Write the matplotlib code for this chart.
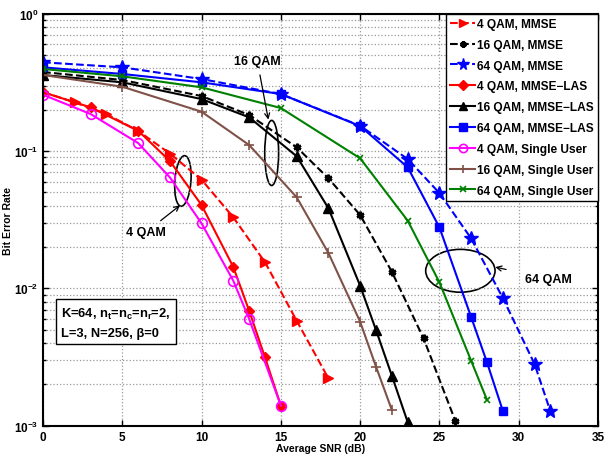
import matplotlib
matplotlib.use("Agg")
import matplotlib.pyplot as plt
from matplotlib.patches import Ellipse
from matplotlib.ticker import FixedLocator, FixedFormatter, NullFormatter, LogLocator

plt.rcParams["font.family"] = ["Liberation Sans", "DejaVu Sans"]
plt.rcParams["font.weight"] = "bold"
plt.rcParams["mathtext.fontset"] = "custom"
plt.rcParams["mathtext.bf"] = "Liberation Sans:bold"
plt.rcParams["mathtext.rm"] = "Liberation Sans:bold"

# 4 QAM
snr_4_mmse = [0, 2, 4, 6, 8, 10, 12, 14, 16, 18]
ber_4_mmse = [0.269, 0.226, 0.186, 0.140, 0.0959, 0.0618, 0.0329, 0.0155, 0.0058, 0.00221]
snr_4_las = [0, 3, 6, 8, 10, 12, 13, 14, 15]
ber_4_las = [0.268, 0.208, 0.1405, 0.0846, 0.0404, 0.0143, 0.00687, 0.00314, 0.0014]
snr_4_su = [0, 3, 6, 8, 10, 12, 13, 15]
ber_4_su = [0.257, 0.186, 0.1143, 0.0643, 0.0297, 0.01136, 0.00598, 0.0014]

# 16 QAM
snr_16_mmse = [0, 5, 10, 13, 16, 18, 20, 22, 24, 26]
ber_16_mmse = [0.376, 0.329, 0.2515, 0.183, 0.1064, 0.0633, 0.0342, 0.0132, 0.00432, 0.001085]
snr_16_las = [0, 5, 10, 13, 16, 18, 20, 21, 22, 23]
ber_16_las = [0.358, 0.3165, 0.239, 0.176, 0.0915, 0.0383, 0.01044, 0.00497, 0.00231, 0.00106]
snr_16_su = [0, 5, 10, 13, 16, 18, 20, 21, 22]
ber_16_su = [0.358, 0.294, 0.1933, 0.1106, 0.046, 0.01808, 0.00571, 0.00269, 0.0013]

# 64 QAM
snr_64_mmse = [0, 5, 10, 15, 20, 23, 25, 27, 29, 31, 32]
ber_64_mmse = [0.4426, 0.407, 0.3345, 0.260, 0.1528, 0.0874, 0.0494, 0.0231, 0.0085, 0.00281, 0.00127]
snr_64_las = [0, 5, 10, 15, 20, 23, 25, 27, 28, 29]
ber_64_las = [0.407, 0.364, 0.3165, 0.260, 0.152, 0.0761, 0.0278, 0.00618, 0.00289, 0.00128]
snr_64_su = [0, 5, 10, 15, 20, 23, 25, 27, 28]
ber_64_su = [0.3957, 0.350, 0.291, 0.2056, 0.0885, 0.0311, 0.01106, 0.00297, 0.00154]

brown = "#7F5147"
green = "#008000"

fig = plt.figure(figsize=(6.06, 4.64), dpi=100)
ax = fig.add_axes([0.071, 0.0804, 0.9158, 0.8879])

ax.plot(snr_4_mmse, ber_4_mmse, "--", color="red", marker=">", ms=7, lw=1.5,
        label="4 QAM, MMSE")
ax.plot(snr_16_mmse, ber_16_mmse, "--", color="black", marker=(6, 2, 0), ms=5.5,
        mew=1.8, lw=1.5, label="16 QAM, MMSE")
ax.plot(snr_64_mmse, ber_64_mmse, "--", color="blue", marker="*", ms=10, lw=1.5,
        label="64 QAM, MMSE")
ax.plot(snr_4_las, ber_4_las, "-", color="red", marker="D", ms=5.5, lw=1.5,
        label="4 QAM, MMSE\u2212LAS")
ax.plot(snr_16_las, ber_16_las, "-", color="black", marker="^", ms=7, lw=1.5,
        label="16 QAM, MMSE\u2212LAS")
ax.plot(snr_64_las, ber_64_las, "-", color="blue", marker="s", ms=6, lw=1.5,
        label="64 QAM, MMSE\u2212LAS")
ax.plot(snr_4_su, ber_4_su, "-", color="magenta", marker="o", ms=7, mfc="none",
        mew=1.2, lw=1.5, label="4 QAM, Single User")
ax.plot(snr_16_su, ber_16_su, "-", color=brown, marker="+", ms=7, mew=1.2, lw=1.5,
        label="16 QAM, Single User")
ax.plot(snr_64_su, ber_64_su, "-", color=green, marker="x", ms=5, mew=1.2, lw=1.5,
        label="64 QAM, Single User")

ax.set_yscale("log")
ax.set_xlim(0, 35)
ax.set_ylim(1e-3, 1)
ax.set_xticks([0, 5, 10, 15, 20, 25, 30, 35])
ax.set_xticklabels([str(v) for v in [0, 5, 10, 15, 20, 25, 30, 35]], fontsize=8.5,
                   fontweight="bold")
ax.yaxis.set_major_locator(FixedLocator([1e-3, 1e-2, 1e-1, 1]))
ax.yaxis.set_major_formatter(FixedFormatter([r"$\mathbf{10^{-3}}$", r"$\mathbf{10^{-2}}$",
                                             r"$\mathbf{10^{-1}}$", r"$\mathbf{10^{0}}$"]))
ax.yaxis.set_minor_locator(LogLocator(base=10, subs=range(2, 10)))
ax.yaxis.set_minor_formatter(NullFormatter())
ax.tick_params(axis="y", labelsize=8.5)
ax.tick_params(which="both", direction="in", top=True, right=True, width=1)
ax.tick_params(which="major", length=4)
ax.tick_params(which="minor", length=2)
ax.grid(True, which="major", linestyle=":", color="#999999", lw=0.9)
ax.grid(True, which="minor", axis="y", linestyle=":", color="#999999", lw=0.9)
for s in ax.spines.values():
    s.set_linewidth(1.5)

ax.set_xlabel("Average SNR (dB)", fontsize=7.5, fontweight="bold", labelpad=0)
ax.set_ylabel("Bit Error Rate", fontsize=7.5, fontweight="bold")
ax.yaxis.set_label_coords(-0.055, 0.5)

leg = ax.legend(loc="upper right", fontsize=8.6, handlelength=2.1, handletextpad=0.15,
                labelspacing=0.74, borderpad=0.35, borderaxespad=0.0, fancybox=False,
                edgecolor="black", framealpha=1, markerscale=0.85)
leg.get_frame().set_linewidth(1.0)
for t in leg.get_texts():
    t.set_fontweight("bold")

# annotations (axes fraction)
ax.add_patch(Ellipse((0.252, 0.594), 0.029, 0.123, angle=-3, transform=ax.transAxes,
                     fill=False, ec="black", lw=1.2))
ax.annotate("4 QAM", xy=(0.247, 0.535), xytext=(0.186, 0.47), textcoords="axes fraction",
            xycoords="axes fraction", fontsize=9, fontweight="bold", ha="center", va="center",
            arrowprops=dict(arrowstyle="->", lw=0.9, color="black", shrinkA=3, shrinkB=0))
ax.add_patch(Ellipse((0.412, 0.662), 0.025, 0.158, angle=0, transform=ax.transAxes,
                     fill=False, ec="black", lw=1.2))
ax.annotate("16 QAM", xy=(0.406, 0.743), xytext=(0.386, 0.886), textcoords="axes fraction",
            xycoords="axes fraction", fontsize=9, fontweight="bold", ha="center", va="center",
            arrowprops=dict(arrowstyle="->", lw=0.9, color="black", shrinkA=4, shrinkB=0))
ax.add_patch(Ellipse((0.752, 0.376), 0.125, 0.104, angle=0, transform=ax.transAxes,
                     fill=False, ec="black", lw=1.2))
ax.annotate("64 QAM", xy=(0.815, 0.385), xytext=(0.911, 0.356), textcoords="axes fraction",
            xycoords="axes fraction", fontsize=9, fontweight="bold", ha="center", va="center",
            arrowprops=dict(arrowstyle="->", lw=0.9, color="black", shrinkA=12, shrinkB=0))

ax.text(0.033, 0.251, "K=64, n$_\\mathbf{t}$=n$_\\mathbf{c}$=n$_\\mathbf{r}$=2,\nL=3, N=256, \u03b2=0",
        transform=ax.transAxes, fontsize=9.3, fontweight="bold", va="center", ha="left",
        linespacing=1.7,
        bbox=dict(boxstyle="square,pad=0.4", fc="white", ec="black", lw=1.0))

fig.savefig("out.png", dpi=100)
